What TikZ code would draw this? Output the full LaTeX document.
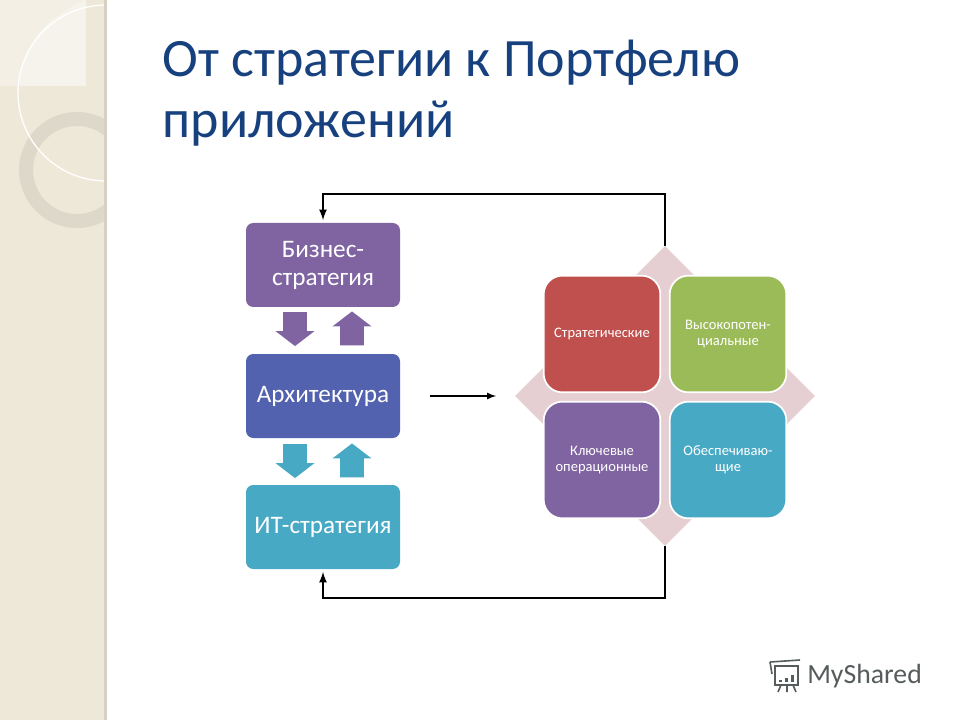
\documentclass[tikz,border=0pt]{standalone}
\usepackage{fontspec}
\setmainfont{Carlito}
\usetikzlibrary{shapes.geometric,shapes.arrows}
\definecolor{panel}{HTML}{EEE8D8}
\definecolor{titleblue}{HTML}{17417E}
\definecolor{mviolet}{HTML}{8064A2}
\definecolor{mindigo}{HTML}{5362AE}
\definecolor{mcyan}{HTML}{48A9C5}
\definecolor{mred}{HTML}{C0504D}
\definecolor{mgreen}{HTML}{9BBB59}
\definecolor{mpink}{HTML}{E6CFD3}
\definecolor{brandgray}{HTML}{565B5C}
\tikzset{
  stackbox/.style={rounded corners=5.5pt,minimum width=115.5pt,minimum height=63pt,inner sep=0pt,
    text=white,align=center,font=\fontsize{18.9pt}{21pt}\selectfont},
  quadbox/.style={draw=white,line width=1.3pt,rounded corners=14pt,minimum size=87.5pt,inner sep=0pt,
    text=white,align=center,font=\fontsize{10.9pt}{12.2pt}\selectfont},
  downarrow/.style={single arrow,shape border rotate=270,minimum width=29pt,minimum height=25.5pt,
    single arrow head extend=5.8pt,single arrow tip angle=105,inner sep=8.7pt},
  uparrow/.style={downarrow,shape border rotate=90},
  looparrow/.style={draw=black,line width=1.7pt,-latex}
}
\begin{document}
\begin{tikzpicture}[x=0.75pt,y=-0.75pt]
    \useasboundingbox (0,0) rectangle (960,720);
    \fill[white] (0,0) rectangle (960,720);
    \fill[panel] (0,0) rectangle (105,720);
    \fill[panel!70!white] (0,0) rectangle (86,86);
    \begin{scope}
      \clip (0,0) rectangle (105,720);
      \fill[even odd rule,black!7!panel] (77,170) circle (58) (77,170) circle (44);
      \draw[white,line width=1pt] (106,93) circle (88);
      \fill[white,opacity=.3] (86,0) .. controls (40,20) and (20,50) .. (20,86) -- (86,86) -- cycle;
    \end{scope}
    \fill[black!10!panel] (104,0) rectangle (107,720);
    \node[anchor=west,text=titleblue,align=left,font=\fontsize{40.5pt}{45.5pt}\selectfont] (title) at (158,93)
      {От стратегии к Портфелю\\приложений};
    \node[diamond,aspect=1,fill=mpink,minimum size=225pt,inner sep=0pt] (hub) at (665,396) {};
    \node[stackbox,fill=mviolet] (biz) at (323,265) {Бизнес-\\стратегия};
    \node[stackbox,fill=mindigo] (arch) at (323,396) {Архитектура};
    \node[stackbox,fill=mcyan] (it) at (323,527) {ИТ-стратегия};
    \node[quadbox,fill=mred] (strat) at (602,334) {Стратегические};
    \node[quadbox,fill=mgreen] (high) at (728,334) {Высокопотен-\\циальные};
    \node[quadbox,fill=mviolet] (key) at (602,460) {Ключевые\\операционные};
    \node[quadbox,fill=mcyan] (sup) at (728,460) {Обеспечиваю-\\щие};
    \node[downarrow,fill=mviolet] (bizdown) at (295,324.5) {};
    \node[uparrow,fill=mviolet] (bizup) at (352,333) {};
    \node[downarrow,fill=mcyan] (itdown) at (295,456.5) {};
    \node[uparrow,fill=mcyan] (itup) at (352,465) {};
    \draw[looparrow,shorten >=2pt] (hub.north) -- ++(0,-52) -| (biz.north);
    \draw[looparrow,shorten >=2pt] (hub.south) -- ++(0,52) -| (it.south);
    \draw[looparrow,line width=1.3pt,shorten <=22pt,shorten >=14pt] (arch.east) -- (hub.west);
    \begin{scope}[draw=brandgray,line width=1.2pt]
      \draw (770,662) -- (800,660) (775,666) rectangle (798,685);
      \draw (770,662) -- (772,674);
      \draw (781,685) -- (778,692) (787,685) -- (787,692) (793,685) -- (796,692);
      \foreach \x/\h in {779/2,785/4,791/7}
        \fill[brandgray] (\x,682) rectangle ++(3,-\h);
    \end{scope}
    \node[anchor=base west,inner sep=0pt,text=brandgray,font=\fontsize{20.8pt}{24pt}\selectfont] (brand) at (807,683) {MyShared};
\end{tikzpicture}
\end{document}
